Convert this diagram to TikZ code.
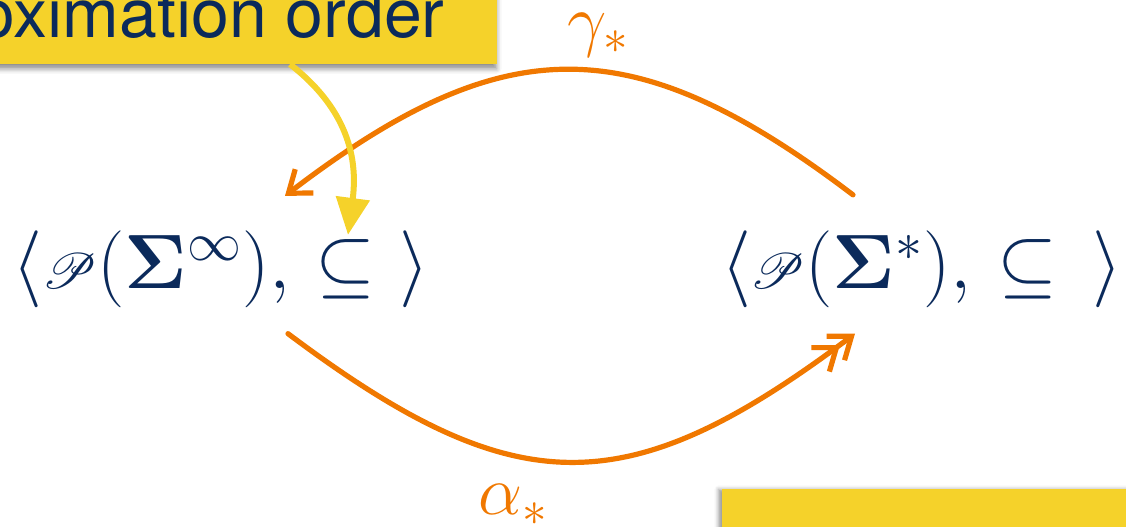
\RequirePackage{fix-cm}
\documentclass[tikz,border=0pt]{standalone}
\usepackage{amsmath,amssymb,mathrsfs}
\usepackage[no-math]{fontspec}
\setsansfont{TeX Gyre Heros}
\usepackage{tikz}
\usetikzlibrary{arrows.meta,shadows.blur}
\definecolor{noteFill}{HTML}{F5D22A}
\definecolor{navyText}{HTML}{0B2A5B}
\definecolor{mapOrange}{HTML}{F07800}

\begin{document}
\begin{tikzpicture}[
  x=0.5pt,y=0.5pt,
  note/.style={rectangle,fill=noteFill,text=navyText,font=\sffamily\fontsize{34}{40}\selectfont,inner xsep=26pt},
  lattice/.style={text=navyText,font=\fontsize{38.5}{45}\selectfont,inner sep=0pt},
  maplabel/.style={text=mapOrange,font=\fontsize{35}{40}\selectfont,inner sep=0pt},
  galois/.style={draw=mapOrange,line width=2.6pt,line cap=round},
  hint/.style={draw=noteFill,line width=3pt}
]
\useasboundingbox (0,0) rectangle (1126,526);
\clip (0,0) rectangle (1126,526);
% powerset lattices of infinite and finite traces, linked by the two maps
\node[lattice,anchor=base] (infinite) at (221,238) {$\langle\mathscr{P}(\mathbf{\Sigma}^{\infty}),\,\subseteq\ \rangle$};
\node[lattice,anchor=base] (finite) at (922,238) {$\langle\mathscr{P}(\mathbf{\Sigma}^{*}),\,\subseteq\ \,\rangle$};
\node[note,anchor=base east,inner ysep=5.5pt,blur shadow={shadow xshift=0pt,shadow yshift=-2.5pt,shadow blur radius=2.5pt,shadow opacity=45}] (approx) at (497,488) {approximation order};
\node[note,anchor=north west,inner xsep=44pt,inner ysep=19.5pt,blur shadow={shadow xshift=-2pt,shadow yshift=0pt,shadow blur radius=2pt,shadow opacity=40}] (concr) at (722,37) {presentation};
\node[maplabel] (gamma) at (598,491) {$\gamma_{*}$};
\node[maplabel] (alpha) at (513,21) {$\alpha_{*}$};
\draw[galois,-{Straight Barb[length=10pt,width=15pt]}] ([shift={(-69,35)}]finite.north) .. controls +(-220,167) and +(220,168) .. ([shift={(64,34)}]infinite.north);
\draw[galois,-{Straight Barb[length=10pt,width=15pt,sep=-4pt]Straight Barb[length=10pt,width=15pt]}] ([shift={(67,-26)}]infinite.south) .. controls +(228,-171) and +(-228,-171) .. ([shift={(-67,-26)}]finite.south);
\draw[hint,-{Triangle[length=18.5pt,width=16.5pt]}] ([xshift=-103.5pt]approx.south east) .. controls +(45,-35) and +(12,91) .. ([shift={(127,-5)}]infinite.north);
\end{tikzpicture}
\end{document}
